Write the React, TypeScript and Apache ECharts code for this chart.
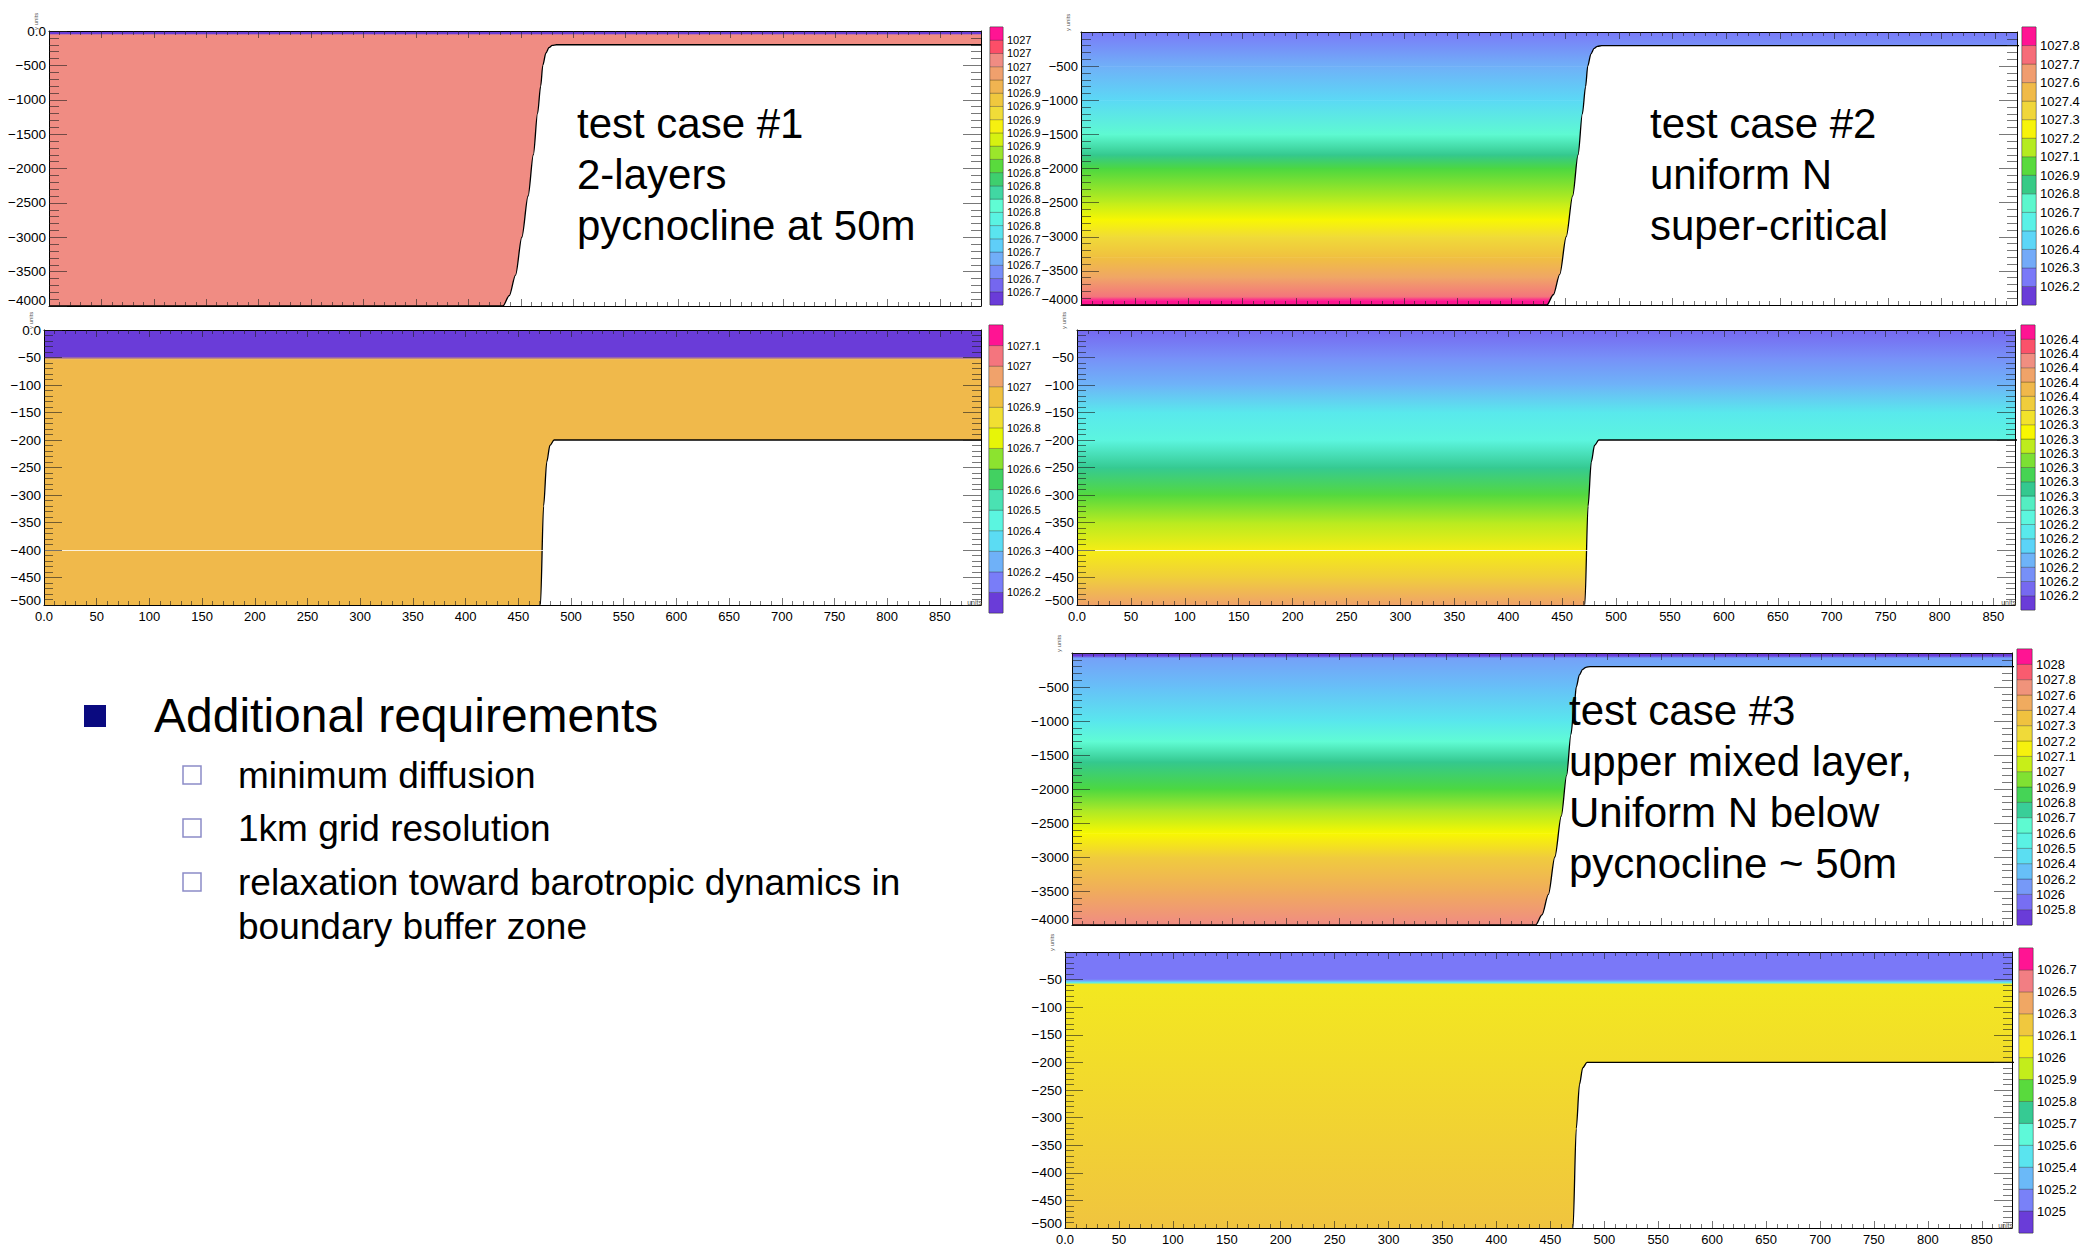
import React, { useEffect, useRef } from "react";
import * as echarts from "echarts";

const FONT = "'Liberation Sans', Arial, Helvetica, sans-serif";

// ---------------- data ----------------
// bottom topography (x units, depth in y units)
const bathyX = [0, 433, 439, 445, 451, 457, 462, 466, 469, 471, 474, 477, 480, 484, 890];
const bathyDepth = [-4000, -4000, -3850, -3550, -3000, -2400, -1800, -1200, -800, -500, -320, -240, -210, -200, -200];

// test case 1, full depth
const case1FullDepth = [0, -45, -50, -4000];
const case1FullDensity = [1026.673, 1026.673, 1026.975, 1026.975];
const case1FullRange = [1026.665, 1027.017];
const case1FullLabels = ["1027", "1027", "1027", "1027", "1026.9", "1026.9", "1026.9", "1026.9", "1026.9", "1026.8", "1026.8", "1026.8", "1026.8", "1026.8", "1026.8", "1026.7", "1026.7", "1026.7", "1026.7", "1026.7"];

// test case 1, upper 500
const case1TopDepth = [0, -48, -53, -500];
const case1TopDensity = [1026.12, 1026.12, 1026.94, 1026.94];
const case1TopRange = [1026.08, 1027.2];
const case1TopLabels = ["1027.1", "1027", "1027", "1026.9", "1026.8", "1026.7", "1026.6", "1026.6", "1026.5", "1026.4", "1026.3", "1026.2", "1026.2"];

// test case 2, full depth
const case2FullDepth = [0, -500, -1000, -1500, -1800, -2000, -2500, -2750, -3000, -3300, -3600, -3880, -3930, -4000];
const case2FullDensity = [1026.26, 1026.4, 1026.52, 1026.75, 1026.87, 1026.99, 1027.15, 1027.24, 1027.36, 1027.48, 1027.6, 1027.75, 1027.88, 1027.88];
const case2FullRange = [1026.07, 1027.945];
const case2FullLabels = ["1027.8", "1027.7", "1027.6", "1027.4", "1027.3", "1027.2", "1027.1", "1026.9", "1026.8", "1026.7", "1026.6", "1026.4", "1026.3", "1026.2"];

// test case 2, upper 500
const case2TopDepth = [0, -50, -100, -150, -200, -250, -300, -350, -400, -450, -500];
const case2TopDensity = [1026.179, 1026.192, 1026.205, 1026.23, 1026.242, 1026.268, 1026.287, 1026.306, 1026.326, 1026.345, 1026.371];
const case2TopRange = [1026.16, 1026.416];
const case2TopLabels = ["1026.4", "1026.4", "1026.4", "1026.4", "1026.4", "1026.3", "1026.3", "1026.3", "1026.3", "1026.3", "1026.3", "1026.3", "1026.3", "1026.2", "1026.2", "1026.2", "1026.2", "1026.2", "1026.2"];

// test case 3, full depth
const case3FullDepth = [0, -40, -70, -500, -1000, -1300, -1600, -2000, -2300, -2650, -3000, -3500, -4000];
const case3FullDensity = [1025.767, 1025.767, 1026.06, 1026.17, 1026.35, 1026.56, 1026.72, 1026.877, 1027.036, 1027.195, 1027.444, 1027.625, 1027.807];
const case3FullRange = [1025.7, 1028.1];
const case3FullLabels = ["1028", "1027.8", "1027.6", "1027.4", "1027.3", "1027.2", "1027.1", "1027", "1026.9", "1026.8", "1026.7", "1026.6", "1026.5", "1026.4", "1026.2", "1026", "1025.8"];

// test case 3, upper 500
const case3TopDepth = [0, -49, -52, -55, -58, -500];
const case3TopDensity = [1025.056, 1025.056, 1025.204, 1025.425, 1026.163, 1026.33];
const case3TopRange = [1024.85, 1026.85];
const case3TopLabels = ["1026.7", "1026.5", "1026.3", "1026.1", "1026", "1025.9", "1025.8", "1025.7", "1025.6", "1025.4", "1025.2", "1025"];

const stripeDepth = [-400];

const overlay1 = ["test case #1", "2-layers", "pycnocline at 50m"];
const overlay2 = ["test case #2", "uniform N", "super-critical"];
const overlay3 = ["test case #3", "upper mixed layer,", "Uniform N below", "pycnocline ~ 50m"];
const reqTitle = "Additional requirements";
const reqItems = ["minimum diffusion", "1km grid resolution", "relaxation toward barotropic dynamics in"];
const reqContinuation = "boundary buffer zone";

// ---------------- styles ----------------
const PALETTE: [number, string][] = [
  [0.0, "#6a3cd8"],
  [0.07, "#7a78f8"],
  [0.14, "#74a8f8"],
  [0.21, "#5cd4f8"],
  [0.28, "#58f0e8"],
  [0.35, "#60fcd4"],
  [0.42, "#34c890"],
  [0.49, "#4cd840"],
  [0.56, "#a8e828"],
  [0.63, "#f8f800"],
  [0.7, "#f0dc38"],
  [0.77, "#f0c040"],
  [0.84, "#f0a468"],
  [0.91, "#f08888"],
  [0.96, "#ff4060"],
  [1.0, "#ff1493"],
];

function hexToRgb(h: string) {
  const n = parseInt(h.slice(1), 16);
  return [(n >> 16) & 255, (n >> 8) & 255, n & 255];
}
function paletteAt(t: number): string {
  const tt = Math.max(0, Math.min(1, t));
  for (let i = 1; i < PALETTE.length; i++) {
    const [t0, c0] = PALETTE[i - 1];
    const [t1, c1] = PALETTE[i];
    if (tt <= t1) {
      const f = (tt - t0) / (t1 - t0);
      const a = hexToRgb(c0);
      const b = hexToRgb(c1);
      const r = a.map((x, k) => Math.round(x + (b[k] - x) * f));
      return `rgb(${r[0]},${r[1]},${r[2]})`;
    }
  }
  return PALETTE[PALETTE.length - 1][1];
}
function colorOf(v: number, range: number[], n: number) {
  const u = ((v - range[0]) / (range[1] - range[0])) * n - 0.5;
  return paletteAt(u / (n - 1));
}

type Box = { left: number; top: number; width: number; height: number };
type Panel = {
  depth: number[];
  dens: number[];
  range: number[];
  labels: string[];
  ymin: number;
  yStep: number;
  xmax: number;
  grid: Box;
  cb: Box;
  showX: boolean;
  zeroLabel: boolean;
  stripe: boolean;
  yMajor: number;
  yMinor: number;
  yFont: number;
  cbFont: number;
};

const PANELS: Panel[] = [
  {
    depth: case1FullDepth, dens: case1FullDensity, range: case1FullRange, labels: case1FullLabels,
    ymin: -4000, yStep: 500, xmax: 889,
    grid: { left: 49, top: 31, width: 932, height: 275 },
    cb: { left: 990, top: 27, width: 13, height: 278 },
    showX: false, zeroLabel: true, stripe: false, yMajor: 18, yMinor: 10, yFont: 13.5, cbFont: 11,
  },
  {
    depth: case1TopDepth, dens: case1TopDensity, range: case1TopRange, labels: case1TopLabels,
    ymin: -500, yStep: 50, xmax: 889,
    grid: { left: 44, top: 330, width: 937, height: 275 },
    cb: { left: 989, top: 325, width: 14, height: 288 },
    showX: true, zeroLabel: true, stripe: true, yMajor: 18, yMinor: 9, yFont: 13.5, cbFont: 11,
  },
  {
    depth: case2FullDepth, dens: case2FullDensity, range: case2FullRange, labels: case2FullLabels,
    ymin: -4000, yStep: 500, xmax: 870,
    grid: { left: 1081, top: 32, width: 936, height: 273 },
    cb: { left: 2022, top: 27, width: 14, height: 278 },
    showX: false, zeroLabel: false, stripe: false, yMajor: 18, yMinor: 10, yFont: 13, cbFont: 13,
  },
  {
    depth: case2TopDepth, dens: case2TopDensity, range: case2TopRange, labels: case2TopLabels,
    ymin: -500, yStep: 50, xmax: 870,
    grid: { left: 1077, top: 330, width: 938, height: 275 },
    cb: { left: 2021, top: 325, width: 14, height: 285 },
    showX: true, zeroLabel: false, stripe: true, yMajor: 18, yMinor: 9, yFont: 13, cbFont: 13,
  },
  {
    depth: case3FullDepth, dens: case3FullDensity, range: case3FullRange, labels: case3FullLabels,
    ymin: -4000, yStep: 500, xmax: 878,
    grid: { left: 1072, top: 653, width: 940, height: 272 },
    cb: { left: 2017, top: 649, width: 15, height: 276 },
    showX: false, zeroLabel: false, stripe: false, yMajor: 18, yMinor: 10, yFont: 13.5, cbFont: 13,
  },
  {
    depth: case3TopDepth, dens: case3TopDensity, range: case3TopRange, labels: case3TopLabels,
    ymin: -500, yStep: 50, xmax: 878,
    grid: { left: 1065, top: 952, width: 947, height: 276 },
    cb: { left: 2019, top: 948, width: 14, height: 285 },
    showX: true, zeroLabel: false, stripe: false, yMajor: 18, yMinor: 9, yFont: 13.5, cbFont: 13,
  },
];

function buildOption() {
  const grid: any[] = [];
  const xAxis: any[] = [];
  const yAxis: any[] = [];
  const series: any[] = [];
  const graphic: any[] = [];
  const tickStyle = { color: "rgba(30,30,30,0.6)", width: 1 };

  PANELS.forEach((p) => {
    const n = p.labels.length + 1;
    const gi = grid.length;
    grid.push({ ...p.grid, outerBoundsMode: "none", containLabel: false });
    const xi = xAxis.length;
    const yi = yAxis.length;
    const xCommon = {
      gridIndex: gi, type: "value", min: 0, max: p.xmax, interval: 50, z: 10,
      splitLine: { show: false },
      axisLine: { show: true, onZero: false, lineStyle: { color: "#000", width: 1 } },
      axisTick: { show: true, inside: true, length: 7, lineStyle: tickStyle },
      minorTick: { show: true, splitNumber: 5, length: 4, lineStyle: tickStyle },
    };
    xAxis.push({
      ...xCommon, position: "bottom",
      axisLabel: {
        show: p.showX, fontSize: 13, color: "#000", fontFamily: FONT, margin: 5,
        formatter: (v: number) => (v === 0 ? "0.0" : v % 50 === 0 ? String(v) : ""),
      },
    });
    xAxis.push({ ...xCommon, position: "top", axisLabel: { show: false } });
    const yCommon = {
      gridIndex: gi, type: "value", min: p.ymin, max: 0, interval: p.yStep, z: 10,
      splitLine: { show: false },
      axisLine: { show: true, onZero: false, lineStyle: { color: "#000", width: 1 } },
      axisTick: { show: true, inside: true, length: p.yMajor, lineStyle: tickStyle },
      minorTick: { show: true, splitNumber: 5, length: p.yMinor, lineStyle: tickStyle },
    };
    const liftPad = p.ymin === -4000 ? 12 : 9;
    yAxis.push({
      ...yCommon, position: "left",
      axisLabel: {
        fontSize: p.yFont, color: "#000", fontFamily: FONT, margin: 3,
        formatter: (v: number) => {
          if (v === 0) return p.zeroLabel ? "0.0" : "";
          const s = "\u2212" + Math.abs(v);
          return v === p.ymin ? `{lift|${s}}` : s;
        },
        rich: {
          lift: { fontSize: p.yFont, fontFamily: FONT, color: "#000", padding: [0, 0, liftPad, 0] },
        },
      },
    });
    yAxis.push({ ...yCommon, position: "right", axisLabel: { show: false } });

    const bands = p.depth.slice(0, -1).map((d, i) => [0, d, p.depth[i + 1], p.dens[i], p.dens[i + 1]]);
    series.push({
      type: "custom",
      xAxisIndex: xi,
      yAxisIndex: yi,
      z: 2,
      silent: true,
      data: bands,
      encode: { x: 0, y: [1, 2] },
      renderItem: (params: any, api: any) => {
        const yTop = api.value(1);
        const yBot = api.value(2);
        const cTop = colorOf(api.value(3), p.range, n);
        const cBot = colorOf(api.value(4), p.range, n);
        const p0 = api.coord([0, yTop]);
        const p1 = api.coord([p.xmax, yBot]);
        const cs = params.coordSys;
        const shape = echarts.graphic.clipRectByRect(
          { x: p0[0], y: p0[1], width: p1[0] - p0[0], height: p1[1] - p0[1] + 0.6 },
          { x: cs.x, y: cs.y, width: cs.width, height: cs.height }
        );
        if (!shape) return null;
        return {
          type: "rect",
          shape,
          style: {
            fill: new echarts.graphic.LinearGradient(0, 0, 0, 1, [
              { offset: 0, color: cTop },
              { offset: 1, color: cBot },
            ]),
          },
        };
      },
      markLine: p.stripe
        ? {
            silent: true,
            symbol: "none",
            label: { show: false },
            lineStyle: { color: "rgba(255,255,255,0.8)", width: 1, type: "solid" },
            data: stripeDepth.map((d) => ({ yAxis: d })),
          }
        : undefined,
    });
    series.push({
      type: "line",
      xAxisIndex: xi,
      yAxisIndex: yi,
      z: 3,
      silent: true,
      data: bathyX.map((x, i) => [x, bathyDepth[i]]),
      showSymbol: false,
      smooth: 0.3,
      smoothMonotone: "x",
      clip: true,
      lineStyle: { color: "#000", width: 1.3 },
      areaStyle: { color: "#fff", opacity: 1, origin: "start" },
    });

    // colour bar
    const cgi = grid.length;
    grid.push({
      ...p.cb, outerBoundsMode: "none", containLabel: false,
      show: true, borderColor: "#888", borderWidth: 1, backgroundColor: "transparent",
    });
    const cxi = xAxis.length;
    const cyi = yAxis.length;
    xAxis.push({ gridIndex: cgi, type: "value", min: 0, max: 1, show: false });
    yAxis.push({
      gridIndex: cgi, type: "value", min: 0, max: n, interval: 1, position: "right",
      axisLine: { show: false }, axisTick: { show: false }, splitLine: { show: false },
      axisLabel: {
        margin: 4, fontSize: p.cbFont, color: "#000", fontFamily: FONT,
        formatter: (v: number) => {
          const k = Math.round(v);
          return k >= 1 && k <= n - 1 ? p.labels[n - 1 - k] : "";
        },
      },
    });
    series.push({
      type: "custom",
      xAxisIndex: cxi,
      yAxisIndex: cyi,
      silent: true,
      data: p.labels.concat([""]).map((_, i) => [0.5, i]),
      encode: { x: 0, y: 1 },
      renderItem: (params: any, api: any) => {
        const i = api.value(1);
        const p0 = api.coord([0, i + 1]);
        const p1 = api.coord([1, i]);
        return {
          type: "rect",
          shape: { x: p0[0], y: p0[1], width: p1[0] - p0[0], height: p1[1] - p0[1] },
          style: { fill: paletteAt(i / (n - 1)), stroke: "rgba(0,0,0,0.3)", lineWidth: 0.8 },
        };
      },
    });

    // tiny axis titles
    graphic.push({
      type: "text",
      x: p.grid.left - 13,
      y: p.grid.top - 1,
      rotation: Math.PI / 2,
      z: 50,
      style: { text: "y units", fontSize: 6, fontFamily: FONT, fill: "#555", align: "left", verticalAlign: "middle" },
    });
    if (p.showX) {
      graphic.push({
        type: "text",
        x: p.grid.left + p.grid.width + 1,
        y: p.grid.top + p.grid.height + 1,
        z: 50,
        style: { text: "units", fontSize: 7, fontFamily: FONT, fill: "#555", align: "right", verticalAlign: "bottom" },
      });
    }
  });

  // overlay captions
  const addLines = (lines: string[], x: number, y0: number, dy: number) =>
    lines.forEach((t, i) =>
      graphic.push({
        type: "text",
        x,
        y: y0 + i * dy,
        z: 100,
        style: { text: t, fontSize: 42, fontFamily: FONT, fill: "#000", align: "left", verticalAlign: "middle" },
      })
    );
  addLines(overlay1, 577, 123, 51);
  addLines(overlay2, 1650, 123, 51);
  addLines(overlay3, 1569, 710, 51);

  // requirements block
  graphic.push({ type: "rect", z: 100, shape: { x: 84, y: 705, width: 22, height: 22 }, style: { fill: "#0a0a80" } });
  graphic.push({
    type: "text", x: 154, y: 715, z: 100,
    style: { text: reqTitle, fontSize: 48, fontFamily: FONT, fill: "#000", align: "left", verticalAlign: "middle" },
  });
  const itemY = [775, 828, 882];
  reqItems.forEach((t, i) => {
    graphic.push({
      type: "rect", z: 100,
      shape: { x: 183, y: itemY[i] - 9, width: 18, height: 18 },
      style: { fill: "none", stroke: "#8c8cc8", lineWidth: 1.5 },
    });
    graphic.push({
      type: "text", x: 238, y: itemY[i], z: 100,
      style: { text: t, fontSize: 37, fontFamily: FONT, fill: "#000", align: "left", verticalAlign: "middle" },
    });
  });
  graphic.push({
    type: "text", x: 238, y: 926, z: 100,
    style: { text: reqContinuation, fontSize: 37, fontFamily: FONT, fill: "#000", align: "left", verticalAlign: "middle" },
  });

  return {
    animation: false,
    backgroundColor: "#fff",
    textStyle: { fontFamily: FONT },
    grid,
    xAxis,
    yAxis,
    series,
    graphic,
  };
}

export default function App() {
  const ref = useRef<HTMLDivElement>(null);
  useEffect(() => {
    if (!ref.current) return;
    const chart = echarts.init(ref.current, null, { renderer: "svg" });
    chart.setOption(buildOption() as any);
    return () => chart.dispose();
  }, []);
  return (
    <div
      ref={ref}
      style={{ position: "absolute", left: 0, top: 0, width: 2098, height: 1246, background: "#fff" }}
    />
  );
}
